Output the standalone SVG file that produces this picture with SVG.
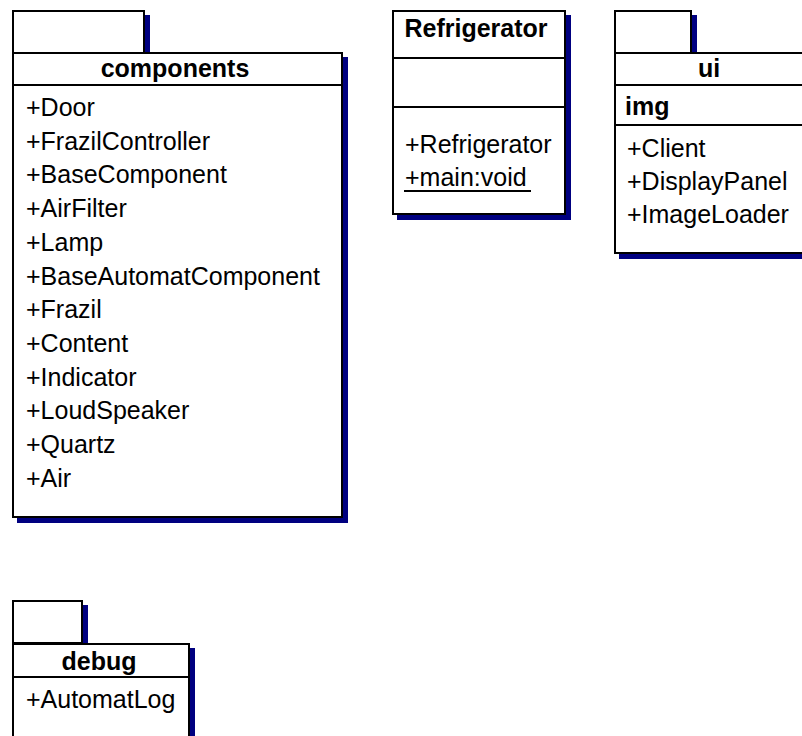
<svg xmlns="http://www.w3.org/2000/svg" width="802" height="736" viewBox="0 0 802 736">
<style>
.bg{fill:#ffffff}
.sh{fill:#000080;stroke:none}
.bx{fill:#ffffff;stroke:#000000;stroke-width:2}
.ln{stroke:#000000;stroke-width:2;fill:none}
.t{font-family:"Liberation Sans",Arial,sans-serif;font-size:25px;fill:#000000}
.h{font-family:"Liberation Sans",Arial,sans-serif;font-size:25px;font-weight:bold;fill:#000000;text-anchor:middle}
.hl{font-family:"Liberation Sans",Arial,sans-serif;font-size:25px;font-weight:bold;fill:#000000}
</style>
<rect class="bg" x="0" y="0" width="802" height="736"/>

<g id="components">
  <rect class="sh" x="17" y="15" width="133" height="42"/>
  <rect class="bx" x="13" y="11" width="131" height="42"/>
  <rect class="sh" x="17" y="57" width="331" height="466"/>
  <rect class="bx" x="13" y="53" width="329" height="464"/>
  <line class="ln" x1="12" y1="85" x2="343" y2="85"/>
  <text class="h" x="175" y="77">components</text>
  <text class="t" x="26" y="116">+Door</text>
  <text class="t" x="26" y="149.7">+FrazilController</text>
  <text class="t" x="26" y="183.4">+BaseComponent</text>
  <text class="t" x="26" y="217.1">+AirFilter</text>
  <text class="t" x="26" y="250.8">+Lamp</text>
  <text class="t" x="26" y="284.5">+BaseAutomatComponent</text>
  <text class="t" x="26" y="318.2">+Frazil</text>
  <text class="t" x="26" y="351.9">+Content</text>
  <text class="t" x="26" y="385.6">+Indicator</text>
  <text class="t" x="26" y="419.3">+LoudSpeaker</text>
  <text class="t" x="26" y="453">+Quartz</text>
  <text class="t" x="26" y="486.7">+Air</text>
</g>

<g id="Refrigerator">
  <rect class="sh" x="397" y="15" width="174" height="205"/>
  <rect class="bx" x="393" y="11" width="172" height="203"/>
  <line class="ln" x1="392" y1="58" x2="566" y2="58"/>
  <line class="ln" x1="392" y1="107" x2="566" y2="107"/>
  <text class="h" x="476" y="37">Refrigerator</text>
  <text class="t" x="405" y="153">+Refrigerator</text>
  <text class="t" x="405" y="186">+main:void</text>
  <line class="ln" x1="404" y1="191" x2="531" y2="191"/>
</g>

<g id="ui">
  <rect class="sh" x="619" y="15" width="78" height="42"/>
  <rect class="bx" x="615" y="11" width="76" height="42"/>
  <rect class="sh" x="619" y="57" width="200" height="202"/>
  <rect class="bx" x="615" y="53" width="200" height="200"/>
  <line class="ln" x1="614" y1="85" x2="816" y2="85"/>
  <line class="ln" x1="614" y1="125" x2="816" y2="125"/>
  <text class="h" x="709" y="77">ui</text>
  <text class="hl" x="625" y="115">img</text>
  <text class="t" x="627" y="157">+Client</text>
  <text class="t" x="627" y="190">+DisplayPanel</text>
  <text class="t" x="627" y="223">+ImageLoader</text>
</g>

<g id="debug">
  <rect class="sh" x="17" y="605" width="71" height="42"/>
  <rect class="bx" x="13" y="601" width="69" height="42"/>
  <rect class="sh" x="17" y="648" width="178" height="120"/>
  <rect class="bx" x="13" y="644" width="176" height="120"/>
  <line class="ln" x1="12" y1="677" x2="190" y2="677"/>
  <text class="h" x="99" y="670">debug</text>
  <text class="t" x="26" y="708">+AutomatLog</text>
</g>

<g id="connectors"></g>
</svg>
